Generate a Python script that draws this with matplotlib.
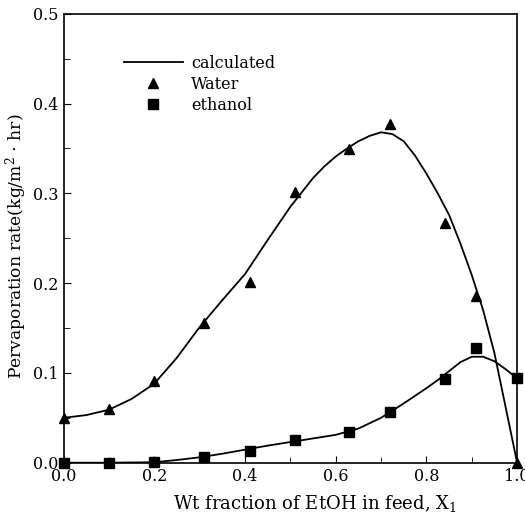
import matplotlib
matplotlib.use("Agg")
import matplotlib.pyplot as plt
from matplotlib.ticker import MultipleLocator

# Measured data points
x_pts = [0.0, 0.1, 0.2, 0.31, 0.41, 0.51, 0.63, 0.72, 0.84, 0.91, 1.0]
water = [0.050, 0.060, 0.091, 0.156, 0.201, 0.302, 0.349, 0.377, 0.267, 0.186, 0.0]
ethanol = [0.0, 0.0, 0.001, 0.006, 0.013, 0.025, 0.034, 0.056, 0.093, 0.128, 0.094]

# Calculated curves
x_wcalc = [0.0, 0.05, 0.1, 0.15, 0.2, 0.25, 0.3, 0.35, 0.4, 0.45, 0.5, 0.55,
           0.575, 0.6, 0.625, 0.65, 0.675, 0.7, 0.725, 0.75, 0.775, 0.8, 0.825,
           0.85, 0.875, 0.9, 0.925, 0.95, 0.975, 1.0]
w_calc = [0.050, 0.053, 0.059, 0.071, 0.088, 0.117, 0.151, 0.181, 0.210, 0.248,
          0.285, 0.317, 0.330, 0.341, 0.350, 0.358, 0.364, 0.368, 0.366, 0.358,
          0.342, 0.322, 0.300, 0.276, 0.244, 0.209, 0.170, 0.122, 0.061, 0.0]
x_ecalc = [0.0, 0.1, 0.2, 0.25, 0.3, 0.35, 0.4, 0.45, 0.5, 0.55, 0.6, 0.65,
           0.7, 0.75, 0.8, 0.825, 0.85, 0.875, 0.9, 0.925, 0.95, 0.975, 1.0]
e_calc = [0.0, 0.0, 0.0005, 0.003, 0.006, 0.010, 0.0145, 0.019, 0.023, 0.027,
          0.031, 0.038, 0.050, 0.066, 0.083, 0.092, 0.102, 0.112, 0.118, 0.118,
          0.113, 0.104, 0.094]

plt.rcParams['font.family'] = ['DejaVu Serif']
plt.rcParams['mathtext.fontset'] = 'dejavuserif'

fig = plt.figure(figsize=(5.25, 5.16), dpi=100)
ax = fig.add_axes([0.121, 0.1033, 0.864, 0.870])

ax.plot(x_wcalc, w_calc, color='black', lw=1.3, label='calculated')
ax.plot(x_ecalc, e_calc, color='black', lw=1.3)
ax.plot(x_pts, water, linestyle='none', marker='^', color='black', ms=7.5,
        label='Water', clip_on=False)
ax.plot(x_pts, ethanol, linestyle='none', marker='s', color='black', ms=6.5,
        label='ethanol', clip_on=False)

ax.set_xlim(0, 1.0)
ax.set_ylim(0, 0.5)
ax.xaxis.set_major_locator(MultipleLocator(0.2))
ax.xaxis.set_minor_locator(MultipleLocator(0.1))
ax.yaxis.set_major_locator(MultipleLocator(0.1))
ax.yaxis.set_minor_locator(MultipleLocator(0.05))
ax.xaxis.set_major_formatter(plt.FormatStrFormatter('%.1f'))
ax.yaxis.set_major_formatter(plt.FormatStrFormatter('%.1f'))
ax.tick_params(which='both', direction='in', labelsize=11.5)
ax.tick_params(which='major', length=5)
ax.tick_params(which='minor', length=4)
for s in ax.spines.values():
    s.set_linewidth(1.2)

ax.set_xlabel('Wt fraction of EtOH in feed, X$_1$', fontsize=13, labelpad=3)
ax.xaxis.set_label_coords(0.553, -0.067)
ax.set_ylabel('Pervaporation rate(kg/m$^2$ $\\cdot$ hr)', fontsize=12.3)
ax.yaxis.set_label_coords(-0.077, 0.483)

leg = ax.legend(loc='upper left', bbox_to_anchor=(0.101, 0.94), frameon=False,
                fontsize=11.5, handlelength=3.7, handletextpad=0.5,
                labelspacing=0.25)

fig.savefig('out.png', dpi=100)
